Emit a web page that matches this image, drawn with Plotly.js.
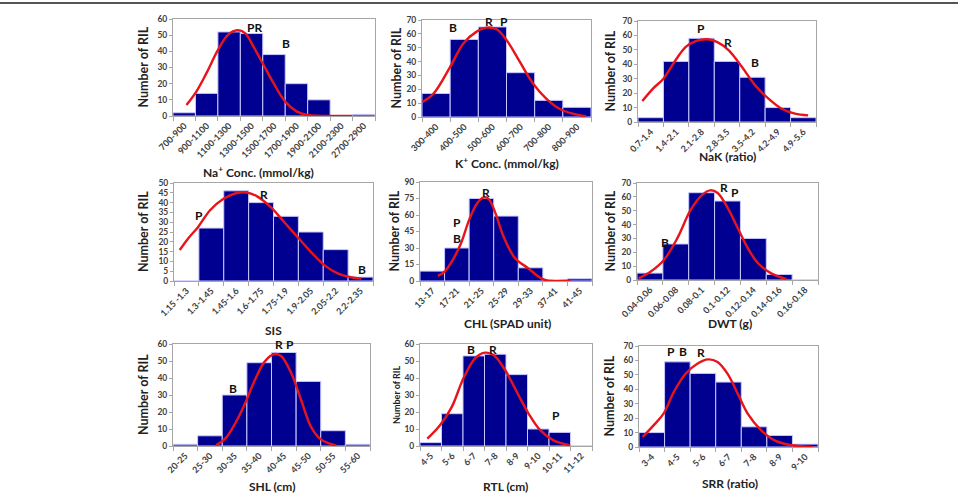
<!DOCTYPE html>
<html><head><meta charset="utf-8">
<script src="https://cdn.plot.ly/plotly-3.0.1.min.js"></script>
<style>html,body{margin:0;padding:0;background:#fff}#chart{width:958px;height:494px}</style>
</head><body><div id="chart"></div>
<script>
// ---------- data ----------
const naCats=['700-900','900-1100','1100-1300','1300-1500','1500-1700','1700-1900','1900-2100','2100-2300','2700-2900'];
const naCounts=[2,14,52,51,38,20,10,0,1];
const naCurveX=[0.10,0.54,0.99,1.51,1.96,2.37,2.71,3.08,3.53,3.98,4.5,5.02,5.47,5.92,7.49];
const naCurveY=[6.8,15.1,26.5,41,50.3,53,51.3,43,31.7,20.3,8.9,2.7,0.6,0.2,0];
const naLetters=['PR','B'], naLetterX=[3.13,4.53], naLetterY=[55,45];

const kCats=['300-400','400-500','500-600','600-700','700-800','800-900'];
const kCounts=[17,56,65,32,12,7];
const kCurveX=[-0.48,-0.09,0.5,0.97,1.44,1.79,2.15,2.5,2.97,3.44,3.91,4.38,4.85,5.32];
const kCurveY=[10.9,16.9,36.2,53.1,61.6,64.5,63.3,55.6,39.9,24.2,13.3,6.0,2.4,0.5];
const kLetters=['B','R','P'], kLetterX=[0.59,1.88,2.42], kLetterY=[64.5,68.8,68.8];

const nakCats=['0.7-1.4','1.4-2.1','2.1-2.8','2.8-3.5','3.5-4.2','4.2-4.9','4.9-5.6'];
const nakCounts=[3,42,58,42,31,10,3];
const nakCurveX=[-0.33,0.08,0.5,0.93,1.38,1.77,2.23,2.62,3.07,3.59,4.11,4.63,5.15,5.67,6.19];
const nakCurveY=[14.5,23,30,41.6,52,56.1,57.3,55.4,49.7,38.1,25.4,16.2,9.2,5.8,4.6];
const nakLetters=['P','R','B'], nakLetterX=[1.97,3.05,4.1], nakLetterY=[64.7,55.4,41];

const sisCats=['1.15 -1.3','1.3-1.45','1.45-1.6','1.6-1.75','1.75-1.9','1.9-2.05','2.05-2.2','2.2-2.35'];
const sisCounts=[0,27,46,40,33,25,16,2];
const sisCurveX=[-0.27,0.07,0.47,0.95,1.49,2.03,2.43,2.84,3.38,3.92,4.46,5.0,5.54,6.08,6.62,7.03];
const sisCurveY=[15.8,21.7,27.6,36.1,42,44.9,45.1,43.2,37.8,30.2,22.5,14.9,8.1,3.9,1.9,1.2];
const sisLetters=['P','R','B'], sisLetterX=[0.51,3.11,7.05], sisLetterY=[33.6,44.2,5.9];

const chlCats=['13-17','17-21','21-25','25-29','29-33','37-41','41-45'];
const chlCounts=[9,30,75,59,12,1,2];
const chlCurveX=[0.23,0.5,0.83,1.17,1.5,1.83,2.1,2.3,2.57,2.9,3.37,3.9,4.43,4.7,5.63];
const chlCurveY=[4.6,8.5,19.1,34.3,55.6,70.8,76,74.5,61.7,40.4,20.7,11.6,2.4,0.3,0.3];
const chlLetters=['R','P','B'], chlLetterX=[2.17,1.01,1.01], chlLetterY=[80.5,53.5,38.3];

const dwtCats=['0.04-0.06','0.06-0.08','0.08-0.1','0.1-0.12','0.12-0.14','0.14-0.16','0.16-0.18'];
const dwtCounts=[5,26,63,57,30,4,0];
const dwtCurveX=[-0.44,0.02,0.54,1.06,1.58,2.03,2.33,2.62,3.01,3.4,3.79,4.18,4.69,5.28];
const dwtCurveY=[1.2,6.0,14.5,30.2,50.7,61.6,64.7,62.8,51.9,37.4,22.9,12.1,4.8,0.7];
const dwtLetters=['R','P','B'], dwtLetterX=[2.88,3.29,0.6], dwtLetterY=[66.4,63.3,27.2];

const shlCats=['20-25','25-30','30-35','35-40','40-45','45-50','50-55','55-60'];
const shlCounts=[1,6,30,49,55,38,9,1];
const shlCurveX=[1.26,1.63,2.03,2.43,2.83,3.23,3.63,3.9,4.3,4.7,5.1,5.5,5.9,6.14];
const shlCurveY=[0.6,4.5,13.4,25.2,39,49.8,54.1,52.8,42.9,27.2,11.4,3.9,1.2,0.2];
const shlLetters=['B','R','P'], shlLetterX=[1.94,3.79,4.26], shlLetterY=[34,59.6,59.6];

const rtlCats=['4-5','5-6','6-7','7-8','8-9','9-10','10-11','11-12'];
const rtlCounts=[2,19,53,54,42,10,8,0];
const rtlCurveX=[-0.16,0.43,0.98,1.52,2.06,2.53,2.92,3.46,4.0,4.55,5.09,5.71,6.49];
const rtlCurveY=[4.3,12.2,23,39.8,51.6,54.9,53.5,44.7,31.9,19.1,9.3,3.3,0.4];
const rtlLetters=['B','R','P'], rtlLetterX=[1.88,2.89,5.82], rtlLetterY=[56.9,56.9,17.7];

const srrCats=['3-4','4-5','5-6','6-7','7-8','8-9','9-10'];
const srrCounts=[10,59,51,45,14,8,2];
const srrCurveX=[-0.36,0.07,0.46,0.86,1.32,1.78,2.2,2.57,2.96,3.36,3.75,4.28,4.8,5.46,6.32];
const srrCurveY=[6.9,15,23.1,38.1,50.8,57.7,60.7,58.9,50.8,37,23.1,11.5,4.6,1.2,0];
const srrLetters=['P','B','R'], srrLetterX=[0.75,1.21,1.91], srrLetterY=[66.3,66.3,65.8];

const xTitles=['Na<sup>+</sup> Conc. (mmol/kg)','K<sup>+</sup> Conc. (mmol/kg)','NaK (ratio)','SIS','CHL (SPAD unit)','DWT (g)','SHL (cm)','RTL (cm)','SRR (ratio)'];
const yTitle='Number of RIL';

// ---------- layout config (pixels) ----------
const W=958,H=494;
const FONT='Lato, "Open Sans", sans-serif';
const panels=[
 {cats:naCats,counts:naCounts,cx:naCurveX,cy:naCurveY,lt:naLetters,lx:naLetterX,ly:naLetterY,box:[173,375,19,116],ymax:60,dt:10,xt:[258,172],yt:[143,1]},
 {cats:kCats,counts:kCounts,cx:kCurveX,cy:kCurveY,lt:kLetters,lx:kLetterX,ly:kLetterY,box:[422,591,20,117],ymax:70,dt:10,xt:[507,163],yt:[396,1]},
 {cats:nakCats,counts:nakCounts,cx:nakCurveX,cy:nakCurveY,lt:nakLetters,lx:nakLetterX,ly:nakLetterY,box:[638,816,21,122],ymax:70,dt:10,xt:[727,157],yt:[610,1]},
 {cats:sisCats,counts:sisCounts,cx:sisCurveX,cy:sisCurveY,lt:sisLetters,lx:sisLetterX,ly:sisLetterY,box:[174,373,183,281],ymax:50,dt:5,xt:[273,330],yt:[143,1]},
 {cats:chlCats,counts:chlCounts,cx:chlCurveX,cy:chlCurveY,lt:chlLetters,lx:chlLetterX,ly:chlLetterY,box:[420,592,182,281],ymax:90,dt:15,xt:[507,323],yt:[394,1]},
 {cats:dwtCats,counts:dwtCounts,cx:dwtCurveX,cy:dwtCurveY,lt:dwtLetters,lx:dwtLetterX,ly:dwtLetterY,box:[637,818,183,280],ymax:70,dt:10,xt:[730,323],yt:[610,1]},
 {cats:shlCats,counts:shlCounts,cx:shlCurveX,cy:shlCurveY,lt:shlLetters,lx:shlLetterX,ly:shlLetterY,box:[173,370,344,446],ymax:60,dt:10,xt:[272,486],yt:[143,1]},
 {cats:rtlCats,counts:rtlCounts,cx:rtlCurveX,cy:rtlCurveY,lt:rtlLetters,lx:rtlLetterX,ly:rtlLetterY,box:[420,592,344,446],ymax:60,dt:10,xt:[505,486],yt:[396,0.72]},
 {cats:srrCats,counts:srrCounts,cx:srrCurveX,cy:srrCurveY,lt:srrLetters,lx:srrLetterX,ly:srrLetterY,box:[639,818,346,447],ymax:70,dt:10,xt:[730,483],yt:[609,1]}
];

const data=[]; const layout={width:W,height:H,margin:{l:0,r:0,t:0,b:0},paper_bgcolor:'#fff',plot_bgcolor:'#fff',showlegend:false,bargap:0,annotations:[],shapes:[]};
const px=x=>x/W, py=y=>1-y/H;

panels.forEach((p,i)=>{
  const n=i+1, xa='x'+(n>1?n:''), ya='y'+(n>1?n:'');
  const xk='xaxis'+(n>1?n:''), yk='yaxis'+(n>1?n:'');
  const idx=p.cats.map((c,j)=>j);
  data.push({type:'bar',x:idx,y:p.counts,xaxis:xa,yaxis:ya,width:1,
    marker:{color:'#000090',line:{color:'#c8c8ff',width:1}},hoverinfo:'skip'});
  data.push({type:'scatter',mode:'lines',x:p.cx,y:p.cy,xaxis:xa,yaxis:ya,
    line:{color:'#e8141b',width:2.4,shape:'spline',smoothing:1},hoverinfo:'skip'});
  layout[xk]={domain:[px(p.box[0]),px(p.box[1])],anchor:ya,range:[-0.5,p.cats.length-0.5],
    tickmode:'array',tickvals:idx,ticktext:p.cats,tickangle:-45,ticks:'',
    tickfont:{family:FONT,size:9,color:'#404040',weight:700},
    showline:true,linecolor:'#a6a6a6',linewidth:1,mirror:true,showgrid:false,zeroline:false,fixedrange:true,
    minor:{tickmode:'linear',tick0:-0.5,dtick:1,ticks:'outside',ticklen:4,tickcolor:'#a6a6a6',showgrid:false}};
  layout[yk]={domain:[py(p.box[3]),py(p.box[2])],anchor:xa,range:[0,p.ymax],dtick:p.dt,tick0:0,
    ticks:'outside',ticklen:3,tickcolor:'#a6a6a6',
    tickfont:{family:FONT,size:8.5,color:'#404040',weight:700},
    showline:true,linecolor:'#a6a6a6',linewidth:1,mirror:true,showgrid:false,zeroline:false,fixedrange:true};
  p.lt.forEach((t,j)=>layout.annotations.push({text:t,x:p.lx[j],y:p.ly[j],xref:xa,yref:ya,showarrow:false,
    font:{family:FONT,size:12,color:'#111',weight:700},xanchor:'center',yanchor:'middle'}));
  layout.annotations.push({text:xTitles[i],x:px(p.xt[0]),y:py(p.xt[1]),xref:'paper',yref:'paper',showarrow:false,
    font:{family:FONT,size:12,color:'#222',weight:700},xanchor:'center',yanchor:'middle'});
  layout.annotations.push({text:yTitle,x:px(p.yt[0]),y:py((p.box[2]+p.box[3])/2),xref:'paper',yref:'paper',showarrow:false,textangle:-90,
    font:{family:FONT,size:p.yt[1]<1?9:12.5,color:'#222',weight:700},xanchor:'center',yanchor:'middle'});
});
layout.shapes.push({type:'line',xref:'paper',yref:'paper',x0:0,x1:1,y0:py(3),y1:py(3),line:{color:'#555',width:2}});

Plotly.newPlot('chart',data,layout,{displayModeBar:false,staticPlot:true});
</script></body></html>
